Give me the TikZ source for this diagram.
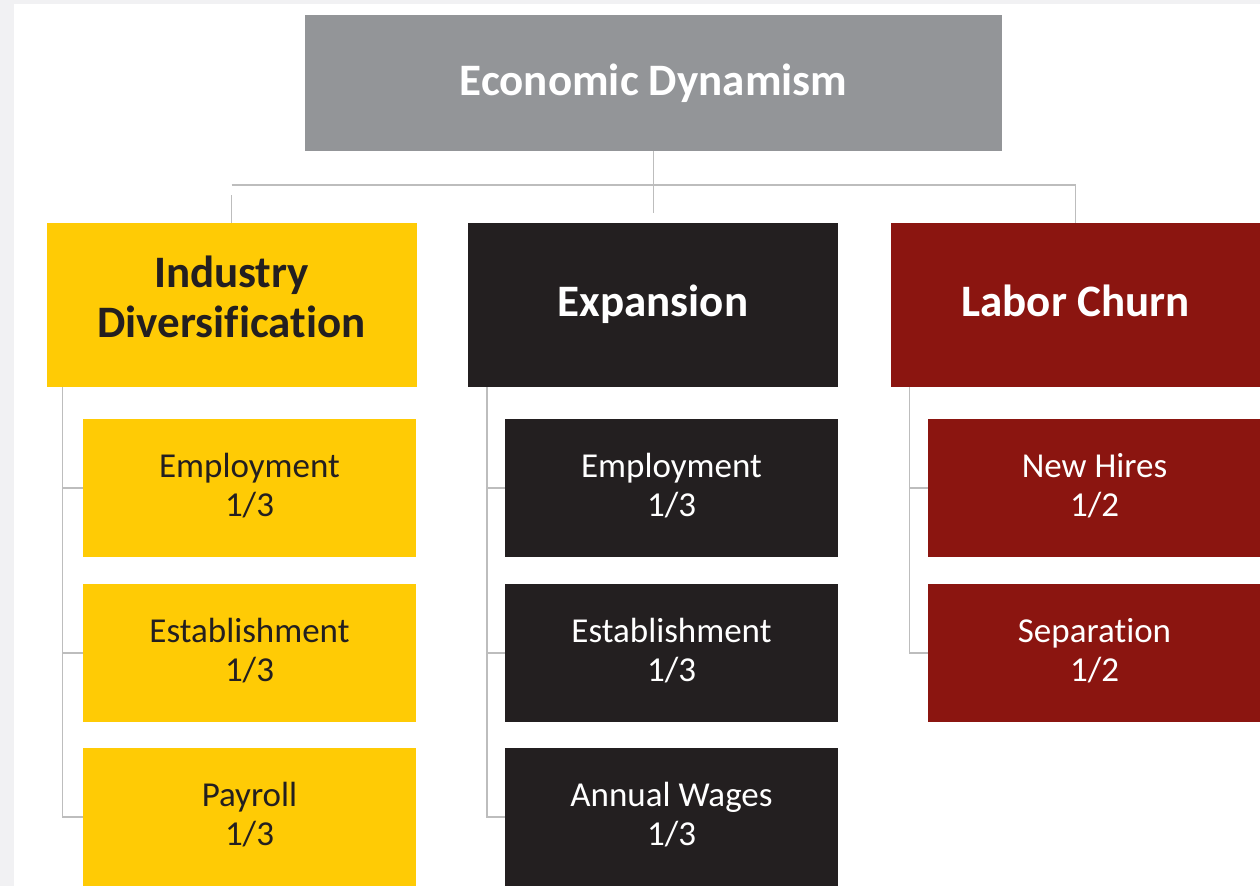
\documentclass[tikz,border=0pt]{standalone}
\usepackage{fontspec}
\setmainfont{Carlito}[Ligatures=NoCommon]
\definecolor{topgray}{HTML}{939598}
\definecolor{indyellow}{HTML}{FFCB05}
\definecolor{expblack}{HTML}{231F20}
\definecolor{churnred}{HTML}{8B1510}
\definecolor{linegray}{HTML}{BDBDBD}
\definecolor{pagegray}{HTML}{F1F1F3}

\begin{document}
\begin{tikzpicture}[x=1pt,y=-1pt,
    head/.style={inner sep=0pt, minimum width=370pt, minimum height=164pt, align=center,
      font=\fontsize{45}{50}\selectfont\bfseries},
    sub/.style={inner sep=0pt, minimum width=333pt, minimum height=138pt, align=center,
      font=\fontsize{35}{39}\selectfont},
    tie/.style={draw=linegray, line width=1.4pt}]
  \useasboundingbox (0,0) rectangle (1260,886);
  \fill[pagegray] (0,0) rectangle (1260,886);
  \fill[white] (14,4) rectangle (1260,886);

  % top box
  \node[head, fill=topgray, text=white, minimum width=697pt, minimum height=136pt] (top) at (653.5,83) {Economic Dynamism\rule[-4pt]{0pt}{0pt}};

  % second row
  \node[head, fill=indyellow, text=expblack] (ind) at (231.5,305) {Industry\\Diversification\rule[-16pt]{0pt}{0pt}};
  \node[head, fill=expblack, text=white] (exp) at (653,305) {Expansion\rule[-8pt]{0pt}{0pt}};
  \node[head, fill=churnred, text=white] (churn) at (1075.5,305) {Labor Churn\rule[-8pt]{0pt}{0pt}};

  % sub boxes
  \node[sub, fill=indyellow, text=expblack] (indemp) at (249.5,488) {Employment\\1/3\rule[-6pt]{0pt}{0pt}};
  \node[sub, fill=indyellow, text=expblack] (indest) at (249.5,653) {Establishment\\1/3\rule[-6pt]{0pt}{0pt}};
  \node[sub, fill=indyellow, text=expblack] (indpay) at (249.5,817) {Payroll\\1/3\rule[-6pt]{0pt}{0pt}};
  \node[sub, fill=expblack, text=white] (expemp) at (671.5,488) {Employment\\1/3\rule[-6pt]{0pt}{0pt}};
  \node[sub, fill=expblack, text=white] (expest) at (671.5,653) {Establishment\\1/3\rule[-6pt]{0pt}{0pt}};
  \node[sub, fill=expblack, text=white] (expwage) at (671.5,817) {Annual Wages\\1/3\rule[-6pt]{0pt}{0pt}};
  \node[sub, fill=churnred, text=white] (churnhire) at (1094.5,488) {New Hires\\1/2\rule[-6pt]{0pt}{0pt}};
  \node[sub, fill=churnred, text=white] (churnsep) at (1094.5,653) {Separation\\1/2\rule[-6pt]{0pt}{0pt}};

  % connectors
  \coordinate (bar) at (653,185);
  \draw[tie] (top.south) -- ++(0,62);
  \draw[tie] (bar -| ind.north) -- (bar -| churn.north);
  \draw[tie] (ind.north) -- ++(0,-28);
  \draw[tie] (churn.north) -- ++(0,-38);
  \foreach \s in {indemp,indest,indpay}
    \draw[tie] ([xshift=16pt]ind.south west) |- (\s.west);
  \foreach \s in {expemp,expest,expwage}
    \draw[tie] ([xshift=19pt]exp.south west) |- (\s.west);
  \foreach \s in {churnhire,churnsep}
    \draw[tie] ([xshift=19pt]churn.south west) |- (\s.west);
\end{tikzpicture}
\end{document}
